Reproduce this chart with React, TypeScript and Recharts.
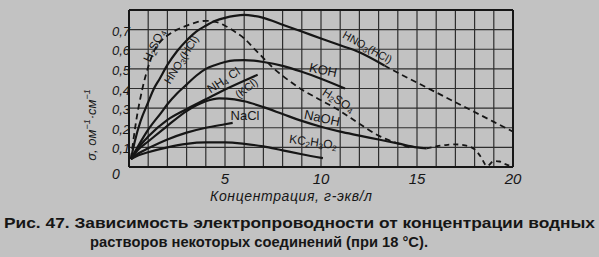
import React from 'react';
import { LineChart, Line, XAxis, YAxis, CartesianGrid, ReferenceLine } from 'recharts';

// concentration (g-eq/L) and conductivity (Ohm^-1 cm^-1)
const h2so4X = [0.1, 0.35, 0.7, 1, 1.3, 1.7, 2, 2.5, 3, 3.5, 4, 4.5, 5, 5.5, 6, 6.5, 7, 7.5, 8, 9, 10, 11, 12, 13, 14, 14.6];
const h2so4Y = [0.04, 0.22, 0.4, 0.51, 0.59, 0.645, 0.67, 0.7, 0.72, 0.737, 0.745, 0.74, 0.72, 0.69, 0.655, 0.605, 0.555, 0.505, 0.465, 0.395, 0.34, 0.285, 0.22, 0.16, 0.12, 0.1];

const hno3X = [0.1, 0.3, 0.6, 1, 1.3, 1.6, 2, 2.5, 3, 3.5, 4, 4.5, 5, 5.5, 6, 6.5, 7, 8, 9, 10, 11, 12, 13.3];
const hno3Y = [0.04, 0.13, 0.233, 0.33, 0.4, 0.45, 0.52, 0.59, 0.645, 0.69, 0.72, 0.745, 0.76, 0.77, 0.775, 0.77, 0.76, 0.725, 0.69, 0.655, 0.62, 0.585, 0.517];
const hno3TailX = [13.3, 14, 15, 16, 17, 18, 19, 20];
const hno3TailY = [0.517, 0.48, 0.43, 0.38, 0.33, 0.28, 0.23, 0.18];

const kohX = [0.1, 0.5, 1, 1.7, 2, 2.5, 3, 3.5, 4, 4.5, 5, 5.5, 6, 6.5, 7, 8, 9, 10, 11.25];
const kohY = [0.04, 0.11, 0.19, 0.28, 0.32, 0.375, 0.42, 0.465, 0.5, 0.52, 0.535, 0.543, 0.545, 0.542, 0.535, 0.515, 0.485, 0.45, 0.4];

const nh4clX = [0.1, 0.5, 1, 2, 3, 4, 5, 6, 6.7];
const nh4clY = [0.04, 0.1, 0.155, 0.24, 0.295, 0.345, 0.395, 0.44, 0.47];

const naohX = [0.1, 0.5, 1, 2, 3, 4, 4.7, 5.5, 6, 7, 8, 9, 10, 11, 12, 13, 14, 15, 15.5];
const naohY = [0.04, 0.09, 0.13, 0.21, 0.285, 0.335, 0.35, 0.345, 0.335, 0.305, 0.27, 0.235, 0.205, 0.18, 0.16, 0.14, 0.12, 0.1, 0.095];
const naohTailX = [15.5, 16, 16.5, 17, 17.5, 18, 18.3, 18.65, 19, 19.3, 19.6, 20];
const naohTailY = [0.095, 0.105, 0.112, 0.115, 0.11, 0.09, 0.055, 0.005, 0.03, 0.028, 0.015, 0.0];

const naclX = [0.1, 0.5, 1, 2, 3, 4, 5, 5.4];
const naclY = [0.04, 0.07, 0.095, 0.14, 0.175, 0.2, 0.218, 0.225];

const kacX = [0.1, 0.5, 1, 2, 3, 4, 5, 6, 7, 8, 9, 10.1];
const kacY = [0.04, 0.06, 0.075, 0.1, 0.118, 0.125, 0.125, 0.118, 0.105, 0.085, 0.065, 0.045];

const xTicks = [0, 1, 2, 3, 4, 5, 6, 7, 8, 9, 10, 11, 12, 13, 14, 15, 16, 17, 18, 19, 20];
const xLabelTicks = [5, 10, 15, 20];
const yTicks = [0, 0.1, 0.2, 0.3, 0.4, 0.5, 0.6, 0.7, 0.8];
const yLabelTicks = ['0,1', '0,2', '0,3', '0,4', '0,5', '0,6', '0,7'];

const caption1 = 'Рис. 47. Зависимость электропроводности от концентрации водных';
const caption2 = 'растворов некоторых соединений (при 18 °С).';
const xTitle = 'Концентрация, г-экв/л';

const pts = (xs: number[], ys: number[]) => xs.map((x, i) => ({ x, y: ys[i] }));

const INK = '#161616';
const GRID = '#2e2e2e';
const PAPER = '#c2c2c2';
const FONT = '"Liberation Sans", Arial, sans-serif';

const XTick = (props: any) => {
  const { x, y, payload } = props;
  const v = payload.value;
  if (v === 0) {
    return (
      <text x={x - 13} y={y + 4} fontFamily={FONT} fontStyle="italic" fontSize={14} fill={INK} textAnchor="middle">0</text>
    );
  }
  if (!xLabelTicks.includes(v)) return <g />;
  return (
    <text x={x} y={y + 9} fontFamily={FONT} fontStyle="italic" fontSize={15} fill={INK} textAnchor="middle">{String(v)}</text>
  );
};

const YTick = (props: any) => {
  const { x, y, payload } = props;
  const v = payload.value;
  if (v <= 0.05 || v >= 0.75) return <g />;
  const label = yLabelTicks[Math.round(v * 10) - 1];
  return (
    <text x={x + 9} y={y + 6} fontFamily={FONT} fontStyle="italic" fontSize={13} fill={INK} textAnchor="end">{label}</text>
  );
};

const Sub = ({ children }: { children: React.ReactNode }) => (
  <tspan fontSize={8} dy={3}>{children}</tspan>
);

const Lbl = ({ x, y, r, children, size = 12 }: any) => (
  <text
    x={x}
    y={y}
    transform={`rotate(${r} ${x} ${y})`}
    fontFamily={FONT}
    fontSize={size}
    fill={INK}
    textAnchor="middle"
    dominantBaseline="middle"
  >
    {children}
  </text>
);

export default function App() {
  const lineCommon = {
    type: 'monotone' as const,
    dataKey: 'y',
    stroke: INK,
    strokeWidth: 2.2,
    dot: false,
    isAnimationActive: false,
  };
  return (
    <div style={{ position: 'fixed', left: 0, top: 0, width: 599, height: 257, background: PAPER, overflow: 'hidden' }}>
      <LineChart width={599} height={257} margin={{ top: 10, right: 86, bottom: 60, left: 99 }}>
        <CartesianGrid stroke={GRID} strokeWidth={1.2} />
        <XAxis
          type="number"
          dataKey="x"
          domain={[0, 20]}
          ticks={xTicks}
          interval={0}
          height={30}
          tick={XTick}
          tickLine={false}
          axisLine={{ stroke: INK, strokeWidth: 2 }}
        />
        <YAxis
          type="number"
          dataKey="y"
          domain={[0, 0.8]}
          ticks={yTicks}
          interval={0}
          width={30}
          tick={YTick}
          tickLine={false}
          axisLine={{ stroke: INK, strokeWidth: 2 }}
        />
        <ReferenceLine y={0.8} stroke={INK} strokeWidth={2} />
        <ReferenceLine x={20} stroke={INK} strokeWidth={2} />
        <Line {...lineCommon} data={pts(h2so4X, h2so4Y)} strokeDasharray="6 4" strokeWidth={1.8} />
        <Line {...lineCommon} data={pts(hno3X, hno3Y)} />
        <Line {...lineCommon} data={pts(hno3TailX, hno3TailY)} strokeDasharray="6 4" strokeWidth={1.8} />
        <Line {...lineCommon} data={pts(kohX, kohY)} />
        <Line {...lineCommon} data={pts(nh4clX, nh4clY)} />
        <Line {...lineCommon} data={pts(naohX, naohY)} />
        <Line {...lineCommon} data={pts(naohTailX, naohTailY)} strokeDasharray="5 4" strokeWidth={1.8} />
        <Line {...lineCommon} data={pts(naclX, naclY)} />
        <Line {...lineCommon} data={pts(kacX, kacY)} />
      </LineChart>
      <svg width={599} height={257} style={{ position: 'absolute', left: 0, top: 0, pointerEvents: 'none' }}>
        <Lbl x={155} y={46} r={-64}>H<Sub>2</Sub><tspan dy={-3}>SO</tspan><Sub>4</Sub></Lbl>
        <Lbl x={182} y={60} r={-58} size={11}>HNO<Sub>3</Sub><tspan dy={-3}>(HCl)</tspan></Lbl>
        <Lbl x={224} y={81} r={-33}>NH<Sub>4</Sub><tspan dy={-3}> Cl</tspan></Lbl>
        <Lbl x={247} y={89} r={-37} size={11}>(KCl)</Lbl>
        <Lbl x={245} y={117} r={0} size={13}>NaCl</Lbl>
        <Lbl x={323} y={71} r={12} size={13}>KOH</Lbl>
        <Lbl x={367} y={48} r={29} size={11}>HNO<Sub>3</Sub><tspan dy={-3}>(HCl)</tspan></Lbl>
        <Lbl x={338} y={101} r={32}>H<Sub>2</Sub><tspan dy={-3}>SO</tspan><Sub>4</Sub></Lbl>
        <Lbl x={322} y={119} r={12} size={13}>NaOH</Lbl>
        <Lbl x={313} y={143} r={8}>KC<Sub>2</Sub><tspan dy={-3}>H</tspan><Sub>3</Sub><tspan dy={-3}>O</tspan><Sub>2</Sub></Lbl>
        <text
          x={93}
          y={125}
          transform="rotate(-90 93 125)"
          fontFamily={FONT}
          fontStyle="italic"
          fontSize={13}
          fill={INK}
          textAnchor="middle"
          dominantBaseline="middle"
        >
          σ, ом<tspan fontSize={9} dy={-5}>−1</tspan><tspan dy={5}>·см</tspan><tspan fontSize={9} dy={-5}>−1</tspan>
        </text>
        <text x={210} y={201} fontFamily={FONT} fontStyle="italic" fontSize={14} fill={INK} textLength={162} lengthAdjust="spacing">{xTitle}</text>
        <text x={4} y={228} fontFamily={FONT} fontWeight={700} fontSize={15.5} fill={INK} textLength={591} lengthAdjust="spacingAndGlyphs">{caption1}</text>
        <text x={90} y={247} fontFamily={FONT} fontWeight={700} fontSize={15.5} fill={INK} textLength={338} lengthAdjust="spacingAndGlyphs">{caption2}</text>
      </svg>
    </div>
  );
}
